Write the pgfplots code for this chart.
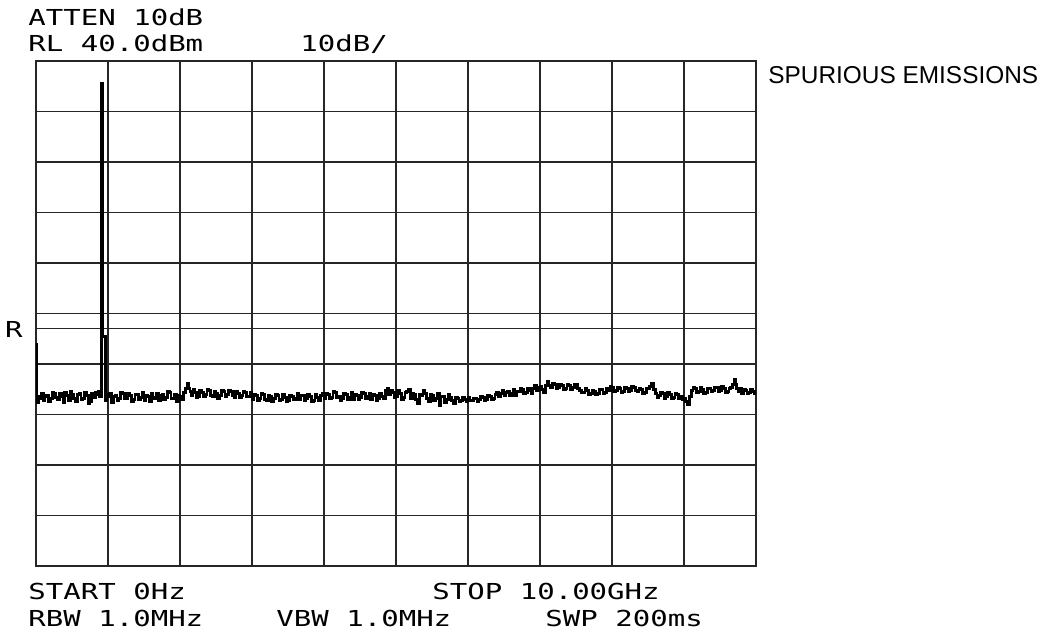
\documentclass[border=0pt]{standalone}
\usepackage{fontspec}
\usepackage{pgfplots}
\pgfplotsset{compat=1.18}
\newfontfamily\hpfont[FakeStretch=1.32]{DejaVu Sans Mono}
\newfontfamily\labfont{Liberation Sans}
\newcommand\hp{\hpfont\fontsize{11}{11}\selectfont}

% swept trace, frequency in GHz, level in dBm
\pgfplotstableread{
f dbm
0 -16.2
0.01 -27.6
0.03 -26.4
0.05 -26.9
0.075 -25.8
0.10 -27.3
0.125 -26.5
0.15 -26.2
0.175 -27.4
0.20 -26.8
0.225 -25.6
0.25 -25.9
0.275 -26.7
0.30 -27.0
0.325 -25.9
0.35 -26.4
0.375 -27.6
0.40 -25.7
0.425 -26.3
0.45 -27.2
0.475 -25.5
0.50 -26.1
0.525 -26.8
0.55 -27.5
0.575 -26.0
0.60 -25.8
0.625 -27.1
0.65 -26.9
0.675 -25.7
0.70 -26.3
0.725 -27.8
0.75 -27.4
0.775 -25.9
0.80 -26.6
0.825 -25.6
0.85 -26.0
0.865 -25.4
0.88 -26.4
0.905 35.6
0.925 -14.6
0.96 -27.3
0.98 -26.0
1.00 -26.5
1.025 -25.9
1.05 -27.6
1.075 -26.4
1.10 -26.2
1.125 -27.3
1.15 -26.8
1.175 -25.7
1.20 -25.8
1.225 -26.9
1.25 -26.9
1.275 -25.9
1.30 -26.3
1.325 -27.4
1.35 -27.1
1.375 -26.0
1.40 -26.0
1.425 -27.0
1.45 -26.7
1.475 -25.6
1.50 -27.2
1.525 -26.3
1.55 -26.4
1.575 -27.5
1.60 -25.9
1.625 -26.6
1.65 -26.8
1.675 -25.8
1.70 -27.3
1.725 -26.2
1.75 -26.1
1.775 -27.0
1.80 -26.6
1.825 -25.5
1.85 -25.7
1.875 -26.8
1.90 -26.9
1.925 -26.0
1.95 -27.4
1.975 -26.2
2.00 -26.5
2.025 -27.0
2.05 -25.6
2.08 -24.9
2.10 -23.8
2.12 -24.9
2.14 -25.4
2.16 -26.2
2.18 -25.1
2.20 -25.7
2.225 -26.6
2.25 -26.4
2.275 -25.2
2.30 -25.6
2.325 -26.5
2.35 -26.1
2.375 -25.0
2.40 -25.3
2.425 -26.2
2.45 -26.5
2.475 -25.4
2.50 -25.9
2.525 -26.8
2.55 -26.3
2.575 -25.3
2.60 -25.5
2.625 -26.4
2.65 -26.0
2.675 -25.2
2.70 -25.4
2.725 -26.3
2.75 -26.6
2.775 -25.5
2.80 -25.8
2.825 -26.7
2.85 -26.2
2.875 -25.4
2.90 -25.6
2.925 -26.5
2.95 -26.4
2.975 -25.7
3.00 -27.0
3.025 -26.0
3.05 -26.3
3.075 -27.3
3.10 -26.8
3.125 -25.9
3.15 -26.1
3.175 -27.0
3.20 -27.2
3.225 -26.2
3.25 -26.5
3.275 -27.5
3.30 -26.9
3.325 -26.0
3.35 -26.3
3.375 -27.2
3.40 -27.1
3.425 -26.1
3.45 -26.6
3.475 -27.4
3.50 -27.3
3.525 -26.2
3.55 -26.4
3.575 -27.1
3.60 -26.8
3.625 -25.9
3.65 -27.0
3.675 -26.3
3.70 -26.2
3.725 -27.2
3.75 -26.9
3.775 -26.0
3.80 -26.5
3.825 -27.4
3.85 -27.2
3.875 -26.1
3.90 -26.7
3.925 -27.3
3.95 -26.3
3.975 -25.8
4.00 -26.9
4.025 -25.9
4.05 -26.0
4.075 -26.9
4.10 -26.6
4.125 -25.5
4.15 -25.7
4.175 -26.7
4.20 -26.4
4.225 -27.2
4.25 -26.8
4.275 -25.8
4.30 -26.1
4.325 -27.0
4.35 -26.6
4.375 -25.7
4.40 -27.0
4.425 -26.0
4.45 -26.2
4.475 -27.1
4.50 -26.7
4.525 -25.6
4.55 -25.9
4.575 -26.9
4.60 -26.5
4.625 -25.8
4.65 -27.1
4.675 -26.0
4.70 -26.3
4.725 -27.2
4.75 -26.8
4.775 -25.9
4.80 -26.4
4.825 -26.9
4.85 -25.3
4.875 -24.9
4.90 -26.0
4.925 -25.2
4.95 -25.6
4.975 -26.7
5.00 -26.4
5.025 -25.3
5.05 -25.8
5.075 -27.0
5.10 -26.6
5.125 -25.7
5.15 -25.4
5.175 -25.0
5.20 -26.9
5.225 -25.8
5.25 -26.1
5.275 -27.1
5.30 -27.8
5.325 -26.0
5.35 -26.3
5.375 -25.2
5.40 -25.9
5.425 -26.8
5.45 -27.5
5.475 -26.0
5.50 -26.2
5.525 -27.2
5.55 -26.8
5.575 -25.9
5.60 -28.3
5.625 -26.4
5.65 -26.5
5.675 -27.6
5.70 -27.0
5.725 -26.1
5.75 -26.7
5.775 -27.3
5.80 -27.9
5.825 -26.6
5.85 -26.9
5.875 -27.5
5.90 -27.2
5.925 -26.7
5.95 -27.0
5.975 -27.4
6.00 -26.7
6.025 -27.2
6.05 -27.3
6.075 -26.8
6.10 -26.8
6.125 -27.4
6.15 -27.1
6.175 -26.5
6.20 -26.6
6.225 -27.2
6.25 -27.0
6.275 -26.3
6.30 -26.5
6.325 -27.0
6.35 -26.9
6.375 -26.1
6.40 -25.6
6.425 -26.4
6.45 -25.9
6.475 -25.2
6.50 -26.3
6.525 -25.6
6.55 -25.4
6.575 -26.2
6.60 -25.8
6.625 -25.1
6.65 -26.2
6.675 -25.4
6.70 -25.5
6.725 -24.8
6.75 -25.0
6.775 -25.9
6.80 -25.7
6.825 -24.9
6.85 -25.2
6.875 -25.9
6.90 -24.8
6.925 -24.2
6.95 -25.3
6.975 -24.6
7.00 -24.4
7.025 -25.1
7.05 -25.6
7.075 -24.3
7.10 -23.5
7.125 -24.2
7.15 -24.6
7.175 -23.9
7.20 -24.0
7.225 -24.8
7.25 -24.7
7.275 -24.0
7.30 -24.2
7.325 -25.0
7.35 -24.9
7.375 -24.1
7.40 -24.3
7.425 -25.1
7.45 -24.6
7.475 -24.0
7.50 -24.1
7.525 -24.8
7.55 -25.2
7.575 -25.7
7.60 -25.6
7.625 -24.9
7.65 -25.3
7.675 -26.0
7.70 -25.9
7.725 -25.2
7.75 -25.5
7.775 -26.1
7.80 -25.8
7.825 -25.0
7.85 -25.1
7.875 -25.8
7.90 -25.6
7.925 -24.8
7.95 -25.2
7.975 -24.4
8.00 -24.7
8.025 -25.4
8.05 -25.3
8.075 -24.6
8.10 -24.9
8.125 -25.7
8.15 -25.4
8.175 -24.7
8.20 -24.8
8.225 -25.5
8.25 -25.2
8.275 -24.5
8.30 -24.6
8.325 -25.3
8.35 -25.5
8.375 -24.8
8.40 -25.0
8.425 -25.9
8.45 -25.6
8.475 -24.8
8.50 -24.9
8.525 -24.4
8.55 -23.8
8.575 -25.0
8.60 -25.8
8.625 -26.6
8.65 -26.3
8.675 -25.6
8.70 -25.9
8.725 -26.8
8.75 -26.5
8.775 -25.7
8.80 -26.1
8.825 -26.9
8.85 -26.7
8.875 -25.8
8.90 -26.0
8.925 -26.8
8.95 -26.4
8.975 -27.0
9.00 -26.8
9.025 -27.5
9.05 -28.1
9.075 -26.5
9.10 -25.3
9.125 -24.6
9.15 -24.9
9.175 -25.6
9.20 -25.4
9.225 -24.7
9.25 -25.0
9.275 -25.8
9.30 -25.6
9.325 -24.9
9.35 -24.8
9.375 -25.5
9.40 -25.3
9.425 -24.6
9.45 -24.7
9.475 -25.4
9.50 -25.2
9.525 -24.5
9.55 -24.9
9.575 -25.7
9.60 -25.5
9.625 -24.8
9.65 -24.6
9.675 -24.1
9.70 -23.0
9.715 -24.0
9.73 -24.8
9.75 -25.4
9.775 -24.9
9.80 -25.9
9.825 -25.1
9.85 -25.2
9.875 -25.9
9.90 -25.7
9.925 -25.0
9.95 -25.4
9.975 -25.8
10.00 -25.6
}\trace

\begin{document}
\begin{tikzpicture}[x=0.5pt,y=0.5pt]
\useasboundingbox (0,0) rectangle (1049,635);
\begin{axis}[
  at={(18pt,34.5pt)}, anchor=south west,
  scale only axis,
  width=360pt, height=252.5pt,
  xmin=0, xmax=10, ymin=-60, ymax=40,
  xtick={0,1,...,10}, ytick={-60,-50,...,40},
  xticklabels={}, yticklabels={},
  major tick length=0pt,
  extra y ticks={-13}, extra y tick labels={},
  extra y tick style={grid=major},
  grid=major,
  grid style={black!85, line width=0.8pt},
  axis line style={black!85, line width=0.8pt},
]
\addplot[const plot, black, line width=1.4pt] table[x=f, y=dbm] {\trace};
\end{axis}

\node[anchor=base west, inner sep=0pt] at (28,609) {\hp ATTEN 10dB};
\node[anchor=base west, inner sep=0pt] at (28,583) {\hp RL 40.0dBm};
\node[anchor=base west, inner sep=0pt] at (300,583) {\hp 10dB/};
\node[anchor=east, inner sep=0pt] at (23,306) {\hp R};
\node[anchor=base west, inner sep=0pt] at (768,551) {\labfont\fontsize{12.2}{12.2}\selectfont SPURIOUS EMISSIONS};
\node[anchor=base west, inner sep=0pt] at (28,35) {\hp START 0Hz};
\node[anchor=base west, inner sep=0pt] at (432,35) {\hp STOP 10.00GHz};
\node[anchor=base west, inner sep=0pt] at (28,8) {\hp RBW 1.0MHz};
\node[anchor=base west, inner sep=0pt] at (276,8) {\hp VBW 1.0MHz};
\node[anchor=base west, inner sep=0pt] at (545,8) {\hp SWP 200ms};
\end{tikzpicture}
\end{document}
